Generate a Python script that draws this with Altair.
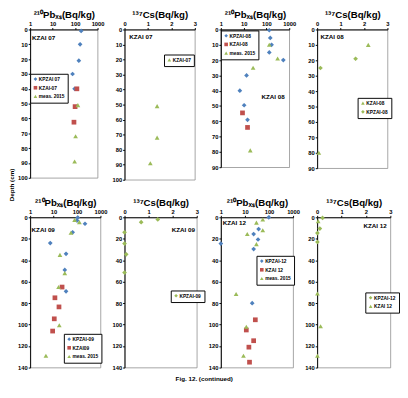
import altair as alt
import pandas as pd

FONT = "Liberation Sans"
BLUE, RED, GREEN = "#4F81BD", "#C0504D", "#9BBB59"
PB_TITLE = "²¹⁰Pbₓₛ(Bq/kg)"
CS_TITLE = "¹³⁷Cs(Bq/kg)"

# ---- KZAI 07 ----
kp07_pb = [186, 167, 147, 77, 95]
kp07_pb_d = [1, 10, 21, 30, 40]
kz07_pb = [120, 100, 89]
kz07_pb_d = [40, 52, 62.5]
ms07_pb = [133, 105, 95]
ms07_pb_d = [51, 72, 89]
kz07_cs = [1.39, 1.39, 1.10]
kz07_cs_d = [51, 72, 89]

# ---- KZAI 08 ----
kp08_pb = [133, 147, 168, 133, 550, 13.4, 6.8, 10.5, 14.8]
kp08_pb_d = [0.5, 5.5, 10, 15, 20, 30, 40, 49.5, 59]
kz08_pb = [8.9, 14.8]
kz08_pb_d = [54.5, 64]
ms08_pb = [133, 309, 26, 19.5]
ms08_pb_d = [10, 19, 25, 79]
kz08_cs = [2.18, 0.07]
kz08_cs_d = [10, 80]
kp08_cs = [1.64, 0.14]
kp08_cs_d = [19, 25]

# ---- KZAI 09 ----
kp09_pb = [107, 100, 219, 65, 7.2, 34, 30, 34]
kp09_pb_d = [0.3, 3, 6, 14, 24, 34, 49, 69]
kz09_pb = [23, 11.4, 17, 10.7, 9.1]
kz09_pb_d = [65, 75, 83.5, 94.6, 106]
ms09_pb = [79, 126, 55, 18.7, 30, 16.3, 17.5, 4.7]
ms09_pb_d = [2.4, 4.5, 14.4, 35, 52, 65, 100.6, 129]
kp09_cs = [1.38, 0.69, 0, 0, 0.07, 0]
kp09_cs_d = [2, 4.5, 14, 24.5, 34.5, 51.5]

# ---- KZAI 12 ----
kp12_pb = [98, 37, 23, 35, 1, 23, 20]
kp12_pb_d = [0, 11, 15.6, 20.7, 24.5, 29.6, 80]
kz12_pb = [27, 11.4, 23, 14.6, 15.5]
kz12_pb_d = [95.5, 105, 115, 121, 135]
ms12_pb = [55, 30, 55, 12.5, 30, 4.3, 11.4, 8.7]
ms12_pb_d = [2, 5, 12, 15.6, 25, 71.5, 102, 129]
kp12_cs = [0.22, 0.11, 0.01, 0.01]
kp12_cs_d = [0.6, 10.5, 14.7, 23]
kz12_cs = [0.04, 0.01, 0.14, 0.01]
kz12_cs_d = [3.6, 71, 101.5, 129]

# core labels: (text, x value, depth)
labels = {
    "p1": ("KZAI 07", 1.2, 6),
    "p2": ("KZAI 07", 0.2, 5),
    "p3": ("KZAI 08", 60, 44),
    "p4": ("KZAI 08", 0.14, 5),
    "p5": ("KZAI 09", 1.15, 11.5),
    "p6": ("KZAI 09", 1.96, 11.5),
    "p7": ("KZAI 12", 1.2, 5),
    "p8": ("KZAI 12", 1.9, 8.5),
}


def frame(series_list):
    rows = []
    for name, xs, ds in series_list:
        for x, d in zip(xs, ds):
            rows.append({"series": name, "v": x, "depth": d})
    return pd.DataFrame(rows)


def panel(series_list, colors, shapes, kind, ymax, ystep, w, h, leg_xy, label, depth_title=False):
    df = frame(series_list)
    names = [s[0] for s in series_list]
    if kind == "pb":
        xscale = alt.Scale(type="log", domain=[1, 1000], nice=False)
        xvals = [1, 10, 100, 1000]
        title = PB_TITLE
    else:
        xscale = alt.Scale(domain=[0, 3], nice=False)
        xvals = [0, 1, 2, 3]
        title = CS_TITLE
    xenc = alt.X("v:Q", scale=xscale,
                 axis=alt.Axis(orient="top", values=xvals, format="d", title=title,
                               labelFlush=False, titleY=-12, titleBaseline="alphabetic"))
    yscale = alt.Scale(domain=[0, ymax], reverse=True, nice=False)
    if depth_title:
        yaxis = alt.Axis(values=list(range(0, ymax + 1, ystep)), title="Depth (cm)",
                         titleX=-19, titleY=-34, titleAngle=270, titleAlign="center",
                         titleBaseline="middle", titleFontSize=6.5, titlePadding=0)
    else:
        yaxis = alt.Axis(values=list(range(0, ymax + 1, ystep)), title=None)
    yenc = alt.Y("depth:Q", scale=yscale, axis=yaxis)
    leg = alt.Legend(orient="none", legendX=leg_xy[0], legendY=leg_xy[1], title=None,
                     strokeColor="black", fillColor="white", padding=3,
                     labelFontSize=5, labelFont=FONT, labelFontWeight="bold",
                     symbolSize=14, rowPadding=3, labelOffset=1, symbolStrokeWidth=0)
    pts = alt.Chart(df).mark_point(filled=True, size=24, opacity=1).encode(
        x=xenc, y=yenc,
        color=alt.Color("series:N", scale=alt.Scale(domain=names, range=colors), legend=leg),
        shape=alt.Shape("series:N", scale=alt.Scale(domain=names, range=shapes), legend=leg),
    )
    ldf = pd.DataFrame({"t": [label[0]], "v": [label[1]], "depth": [label[2]]})
    txt = alt.Chart(ldf).mark_text(align="left", baseline="middle", font=FONT,
                                   fontSize=6.5, fontWeight="bold", color="black").encode(
        x=xenc, y=yenc, text="t:N")
    return alt.layer(pts, txt).properties(width=w, height=h)


D, S, T = "diamond", "square", "triangle-up"

p1 = panel([("KPZAI 07", kp07_pb, kp07_pb_d), ("KZAI-07", kz07_pb, kz07_pb_d),
            ("meas. 2015", ms07_pb, ms07_pb_d)], [BLUE, RED, GREEN], [D, S, T],
           "pb", 100, 10, 70, 154, (0, 46), labels["p1"])
p2 = panel([("KZAI-07", kz07_cs, kz07_cs_d)], [GREEN], [T],
           "cs", 100, 10, 73, 156, (41, 26), labels["p2"])
p3 = panel([("KPZAI-08", kp08_pb, kp08_pb_d), ("KZAI-08", kz08_pb, kz08_pb_d),
            ("meas. 2015", ms08_pb, ms08_pb_d)], [BLUE, RED, GREEN], [D, S, T],
           "pb", 90, 10, 71, 143, (0, 1), labels["p3"])
p4 = panel([("KZAI-08", kz08_cs, kz08_cs_d), ("KPZAI-08", kp08_cs, kp08_cs_d)],
           [GREEN, GREEN], [T, D], "cs", 90, 10, 73, 144, (42, 71), labels["p4"])
p5 = panel([("KPZAI-09", kp09_pb, kp09_pb_d), ("KZAI09", kz09_pb, kz09_pb_d),
            ("meas. 2015", ms09_pb, ms09_pb_d)], [BLUE, RED, GREEN], [D, S, T],
           "pb", 140, 20, 73, 156, (35, 121), labels["p5"], depth_title=True)
p6 = panel([("KPZAI-09", kp09_cs, kp09_cs_d)], [GREEN], [D],
           "cs", 140, 20, 75, 156, (48, 76), labels["p6"])
p7 = panel([("KPZAI-12", kp12_pb, kp12_pb_d), ("KZAI 12", kz12_pb, kz12_pb_d),
            ("meas. 2015", ms12_pb, ms12_pb_d)], [BLUE, RED, GREEN], [D, S, T],
           "pb", 140, 20, 75, 156, (37, 40), labels["p7"])
p8 = panel([("KPZAI-12", kp12_cs, kp12_cs_d), ("KZAI 12", kz12_cs, kz12_cs_d)],
           [GREEN, GREEN], [D, T], "cs", 140, 20, 76, 156, (50, 78), labels["p8"])

chart = alt.concat(p1, p2, p3, p4, p5, p6, p7, p8, columns=4,
                   spacing={"row": 39, "column": 25}, bounds="flush").resolve_scale(
    color="independent", shape="independent", x="independent", y="independent"
).properties(
    padding={"top": -6, "left": 0, "right": 0, "bottom": 0},
    background="white",
    title=alt.TitleParams("Fig. 12. (continued)", orient="bottom", anchor="middle",
                          fontSize=6.5, font=FONT, fontWeight="bold", offset=6),
).configure_view(stroke="#8c8c8c", strokeWidth=0.8).configure_axis(
    domainColor="black", tickColor="black", tickSize=2, labelFontSize=6, labelFont=FONT,
    labelFontWeight="bold", labelColor="black", labelPadding=1, grid=False,
    titleFontSize=10, titleFont=FONT, titleFontWeight="bold", titleColor="black", titlePadding=1,
)

chart.save("out.html", embed_options={"renderer": "svg", "actions": False})
